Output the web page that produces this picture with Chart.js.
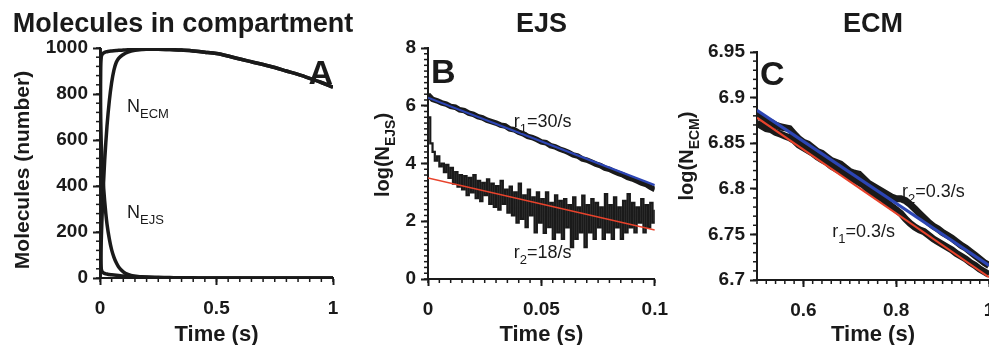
<!DOCTYPE html>
<html>
<head>
<meta charset="utf-8">
<script src="https://cdn.jsdelivr.net/npm/chart.js@4.4.1/dist/chart.umd.min.js"></script>
<style>
  html, body { margin: 0; padding: 0; background: #fff; overflow: hidden; }
  #wrap { position: relative; width: 989px; height: 345px; }
  canvas { position: absolute; top: 0; }
</style>
</head>
<body>
<div id="wrap">
  <canvas id="chartA" style="left:0px"></canvas>
  <canvas id="chartB" style="left:340px"></canvas>
  <canvas id="chartC" style="left:640px"></canvas>
</div>
<script>
// ---- panel A : molecules in compartment ----
var tA = [0, 0.001, 0.002, 0.003, 0.005, 0.0075, 0.01, 0.015, 0.02, 0.025, 0.03, 0.04, 0.05, 0.06, 0.07, 0.08, 0.1, 0.12, 0.15, 0.2, 0.25, 0.3, 0.35, 0.4, 0.45, 0.5, 0.55, 0.6, 0.65, 0.7, 0.75, 0.8, 0.85, 0.9, 0.95, 1.0];
var ecmFast = [0, 450, 780, 900, 955, 968, 974, 978, 981, 983, 984, 986, 987, 988, 989, 990, 991, 992, 994, 995, 995, 993, 991, 987, 982, 976, 965, 952, 940, 928, 915, 900, 885, 868, 850, 830];
var ecmSlow = [0, 30, 60, 90, 150, 230, 300, 410, 510, 590, 660, 770, 850, 905, 938, 955, 972, 982, 990, 995, 995, 993, 991, 987, 982, 976, 965, 952, 940, 928, 915, 900, 885, 868, 850, 830];
var ejsFast = [1000, 600, 300, 150, 50, 32, 26, 22, 20, 18, 17, 15, 14, 13, 12, 11, 9, 8, 6, 4, 3, 2, 1, 1, 0, 0, 0, 0, 0, 0, 0, 0, 0, 0, 0, 0];
var ejsSlow = [1000, 850, 740, 680, 600, 540, 480, 400, 335, 280, 235, 170, 122, 90, 66, 48, 27, 16, 8, 3, 1, 0, 0, 0, 0, 0, 0, 0, 0, 0, 0, 0, 0, 0, 0, 0];
var xTicksA = [0, 0.5, 1];
var xLabelsA = ["0", "0.5", "1"];
var yTicksA = [0, 200, 400, 600, 800, 1000];
var yLabelsA = ["0", "200", "400", "600", "800", "1000"];

// ---- panel B : log(N_EJS) ----
var logEjs1 = [6.38, 6.22, 6.17, 6.10, 6.06, 5.98, 5.95, 5.86, 5.83, 5.74, 5.70, 5.62, 5.58, 5.50, 5.45, 5.40, 5.33, 5.30, 5.20, 5.17, 5.08, 5.03, 4.94, 4.90, 4.83, 4.75, 4.72, 4.62, 4.58, 4.50, 4.45, 4.38, 4.30, 4.26, 4.16, 4.12, 4.05, 3.98, 3.93, 3.84, 3.80, 3.72, 3.66, 3.60, 3.52, 3.47, 3.40, 3.33, 3.28, 3.18, 3.10];
var logEjs2 = [5.6, 4.7, 4.4, 4.1, 4.25, 3.9, 4.0, 3.7, 3.95, 3.5, 3.85, 3.3, 3.7, 3.2, 3.6, 3.1, 3.56, 2.9, 3.5, 3.0,
  3.6, 2.8, 3.4, 2.7, 3.33, 2.9, 3.45, 2.6, 3.3, 2.5, 3.22, 2.4, 3.4, 2.6, 3.1, 2.3, 3.2, 2.2, 3.0, 1.95,
  3.3, 2.08, 2.9, 1.8, 3.1, 2.2, 2.83, 1.61, 3.0, 1.95, 2.77, 1.6, 3.0, 1.8, 2.64, 1.39, 2.9, 1.61, 2.71, 1.39,
  2.77, 1.79, 2.56, 1.1, 2.83, 1.39, 2.48, 1.61, 2.89, 1.1, 2.56, 1.61, 2.77, 1.39, 2.64, 1.79, 2.48, 1.39, 2.94, 1.61,
  2.56, 1.39, 2.83, 1.79, 2.48, 1.39, 2.71, 1.61, 2.94, 1.79, 2.64, 1.61, 2.48, 1.95, 2.77, 1.61, 2.56, 1.79, 2.64, 1.95, 2.4];
var fitTimeB = [0, 0.1];
var fitB1 = [6.28, 3.25];
var fitB2 = [3.5, 1.7];
var xTicksB = [0, 0.05, 0.1];
var xLabelsB = ["0", "0.05", "0.1"];
var yTicksB = [0, 2, 4, 6, 8];
var yLabelsB = ["0", "2", "4", "6", "8"];

// ---- panel C : log(N_ECM) ----
var logEcm2 = [6.882, 6.879, 6.874, 6.873, 6.870, 6.868, 6.867, 6.866, 6.860, 6.855, 6.851, 6.849, 6.845, 6.841, 6.839, 6.835, 6.831, 6.829, 6.827, 6.823, 6.819, 6.817, 6.816, 6.811, 6.806, 6.803, 6.800, 6.797, 6.794, 6.791, 6.789, 6.789, 6.787, 6.783, 6.778, 6.773, 6.768, 6.763, 6.759, 6.756, 6.752, 6.749, 6.746, 6.742, 6.738, 6.735, 6.731, 6.727, 6.723, 6.719, 6.716];
var logEcm1 = [6.872, 6.869, 6.866, 6.865, 6.862, 6.860, 6.858, 6.856, 6.853, 6.848, 6.845, 6.842, 6.839, 6.835, 6.832, 6.829, 6.825, 6.822, 6.819, 6.816, 6.812, 6.810, 6.807, 6.804, 6.799, 6.795, 6.792, 6.789, 6.785, 6.781, 6.777, 6.773, 6.767, 6.762, 6.758, 6.755, 6.753, 6.749, 6.745, 6.742, 6.739, 6.736, 6.733, 6.729, 6.726, 6.723, 6.719, 6.716, 6.712, 6.709, 6.706];
var fitTimeC = [0.5, 1.0];
var fitC1 = [6.878, 6.703];
var fitC2 = [6.886, 6.716];
var xTicksC = [0.6, 0.8, 1];
var xLabelsC = ["0.6", "0.8", "1"];
var yTicksC = [6.7, 6.75, 6.8, 6.85, 6.9, 6.95];
var yLabelsC = ["6.7", "6.75", "6.8", "6.85", "6.9", "6.95"];

var INK = "#1a1a1a";
var BLUE = "#2c45b4";
var RED = "#e8432c";
var FONT = "'Liberation Sans', Arial, sans-serif";

function pts(xs, ys) {
  return ys.map(function (y, i) { return { x: xs[i], y: y }; });
}
function grid(xs, step, x0) {
  return xs.map(function (_, i) { return +(x0 + i * step).toFixed(4); });
}

// short minor ticks between the majors
var minorTicks = {
  id: "minorTicks",
  afterDraw: function (chart, args, opts) {
    var ctx = chart.ctx, a = chart.chartArea;
    ctx.save();
    ctx.strokeStyle = INK;
    ctx.lineWidth = 1.5;
    ["x", "y"].forEach(function (id) {
      var sc = chart.scales[id], step = opts[id];
      if (!step) return;
      var n = Math.round((sc.max - sc.min) / step);
      for (var i = 0; i <= n; i++) {
        var p = sc.getPixelForValue(sc.min + i * step);
        ctx.beginPath();
        if (id === "x") { ctx.moveTo(p, a.bottom); ctx.lineTo(p, a.bottom + 4); }
        else { ctx.moveTo(a.left, p); ctx.lineTo(a.left - 4, p); }
        ctx.stroke();
      }
    });
    ctx.restore();
  }
};

// text with an optional subscript and trailing part
function drawSub(ctx, x, y, main, sub, size, weight, after) {
  ctx.font = weight + " " + size + "px " + FONT;
  ctx.fillText(main, x, y);
  var w = ctx.measureText(main).width;
  if (sub) {
    ctx.font = weight + " " + Math.round(size * 0.72) + "px " + FONT;
    ctx.fillText(sub, x + w, y + size * 0.32);
    w += ctx.measureText(sub).width;
  }
  if (after) {
    ctx.font = weight + " " + size + "px " + FONT;
    ctx.fillText(after, x + w, y);
    w += ctx.measureText(after).width;
  }
  return w;
}
function measureSub(ctx, main, sub, size, weight, after) {
  ctx.font = weight + " " + size + "px " + FONT;
  var w = ctx.measureText(main).width + (after ? ctx.measureText(after).width : 0);
  if (sub) { ctx.font = weight + " " + Math.round(size * 0.72) + "px " + FONT; w += ctx.measureText(sub).width; }
  return w;
}

var texts = {
  id: "texts",
  afterDraw: function (chart, args, o) {
    var ctx = chart.ctx, a = chart.chartArea;
    var sx = chart.scales.x, sy = chart.scales.y;
    var cx = (a.left + a.right) / 2;
    ctx.save();
    ctx.fillStyle = INK;
    ctx.textBaseline = "alphabetic";
    ctx.textAlign = "center";
    ctx.font = "bold 27px " + FONT;
    ctx.fillText(o.title, o.titleX || cx, 32);
    ctx.font = "bold 22px " + FONT;
    ctx.fillText("Time (s)", cx, 341);
    ctx.textAlign = "left";
    // y axis title, rotated
    ctx.save();
    ctx.translate(o.yTitleX, o.yTitleY);
    ctx.rotate(-Math.PI / 2);
    var w = measureSub(ctx, o.yTitle[0], o.yTitle[1], o.yTitleSize, "bold", o.yTitle[2]);
    drawSub(ctx, -w / 2, 7, o.yTitle[0], o.yTitle[1], o.yTitleSize, "bold", o.yTitle[2]);
    ctx.restore();
    // panel letter
    ctx.font = "bold 34px " + FONT;
    ctx.textAlign = o.letterAlign;
    ctx.fillText(o.letter, o.letterX, o.letterY);
    ctx.textAlign = "left";
    o.notes.forEach(function (n) {
      drawSub(ctx, sx.getPixelForValue(n.x), sy.getPixelForValue(n.y), n.main, n.sub, 18, "normal", n.after);
    });
    ctx.restore();
  }
};

// lower "order" is drawn on top
function lineSet(data, color, width, order, smooth, stepped) {
  return {
    data: data, borderColor: color, borderWidth: width, pointRadius: 0, order: order,
    fill: false, tension: 0, stepped: !!stepped,
    cubicInterpolationMode: smooth ? "monotone" : "default"
  };
}

function axis(min, max, ticks, labels, fit, isY) {
  return {
    type: "linear", min: min, max: max,
    afterBuildTicks: function (sc) { sc.ticks = ticks.map(function (v) { return { value: v }; }); },
    afterFit: function (sc) { if (isY) sc.width = fit; else sc.height = fit; },
    border: { display: true, color: INK, width: 2 },
    grid: { drawOnChartArea: false, drawTicks: true, tickLength: 7, tickWidth: 2, tickColor: INK },
    ticks: {
      autoSkip: false, maxRotation: 0, color: INK, padding: isY ? 5 : 12,
      font: { family: FONT, size: 19, weight: "bold" },
      callback: function (v, i) { return labels[i]; }
    }
  };
}

function makeChart(id, w, datasets, x, y, pad, minor, txt) {
  var cv = document.getElementById(id);
  cv.width = w; cv.height = 345;
  cv.style.width = w + "px"; cv.style.height = "345px";
  return new Chart(cv.getContext("2d"), {
    type: "line",
    data: { datasets: datasets },
    options: {
      responsive: false, animation: false, maintainAspectRatio: false,
      layout: { padding: pad },
      scales: { x: x, y: y },
      plugins: { legend: { display: false }, tooltip: { enabled: false }, minorTicks: minor, texts: txt }
    },
    plugins: [minorTicks, texts]
  });
}

makeChart("chartA", 366, [
  lineSet(pts(tA, ejsFast), INK, 3.5, 1, true),
  lineSet(pts(tA, ejsSlow), INK, 3.5, 1, true),
  lineSet(pts(tA, ecmSlow), INK, 3.5, 1, true),
  lineSet(pts(tA, ecmFast), INK, 3.5, 1, true)
], axis(0, 1, xTicksA, xLabelsA, 67, false), axis(0, 1000, yTicksA, yLabelsA, 100, true),
  { left: 0, right: 33, top: 48, bottom: 0 }, { x: 0.05, y: 40 },
  { title: "Molecules in compartment", titleX: 183, yTitle: ["Molecules (number)", "", ""], yTitleSize: 21, yTitleX: 22, yTitleY: 170,
    letter: "A", letterX: 333, letterY: 84, letterAlign: "right",
    notes: [{ x: 0.116, y: 722, main: "N", sub: "ECM" }, { x: 0.116, y: 261, main: "N", sub: "EJS" }] });

var tB1 = grid(logEjs1, 0.002, 0);
var tB2 = grid(logEjs2, 0.001, 0);
makeChart("chartB", 340, [
  lineSet(pts(tB1, logEjs1), INK, 5.5, 3, false),
  lineSet(pts(tB2, logEjs2), INK, 2.2, 3, false, true),
  lineSet(pts(fitTimeB, fitB1), BLUE, 2.2, 1, false),
  lineSet(pts(fitTimeB, fitB2), RED, 1.6, 1, false)
], axis(0, 0.1, xTicksB, xLabelsB, 66, false), axis(0, 8, yTicksB, yLabelsB, 88, true),
  { left: 0, right: 22, top: 48, bottom: 0 }, { x: 0.005, y: 0.2 },
  { title: "EJS", yTitle: ["log(N", "EJS", ")"], yTitleSize: 20, yTitleX: 42, yTitleY: 155,
    letter: "B", letterX: 91, letterY: 83, letterAlign: "left",
    notes: [{ x: 0.0378, y: 5.26, main: "r", sub: "1", after: "=30/s" }, { x: 0.0378, y: 0.73, main: "r", sub: "2", after: "=18/s" }] });

var tC = grid(logEcm1, 0.01, 0.5);
makeChart("chartC", 370, [
  lineSet(pts(tC, logEcm1), INK, 7, 3, false),
  lineSet(pts(tC, logEcm2), INK, 7, 3, false),
  lineSet(pts(fitTimeC, fitC1), RED, 2, 2, false),
  lineSet(pts(fitTimeC, fitC2), BLUE, 3, 1, false)
], axis(0.5, 1, xTicksC, xLabelsC, 65, false), axis(6.7, 6.95, yTicksC, yLabelsC, 117, true),
  { left: 0, right: 21, top: 52, bottom: 0 }, { x: 0.02, y: 0.01 },
  { title: "ECM", yTitle: ["log(N", "ECM", ")"], yTitleSize: 20, yTitleX: 46, yTitleY: 156,
    letter: "C", letterX: 120, letterY: 85, letterAlign: "left",
    notes: [{ x: 0.8125, y: 6.791, main: "r", sub: "2", after: "=0.3/s" }, { x: 0.662, y: 6.747, main: "r", sub: "1", after: "=0.3/s" }] });
</script>
</body>
</html>
